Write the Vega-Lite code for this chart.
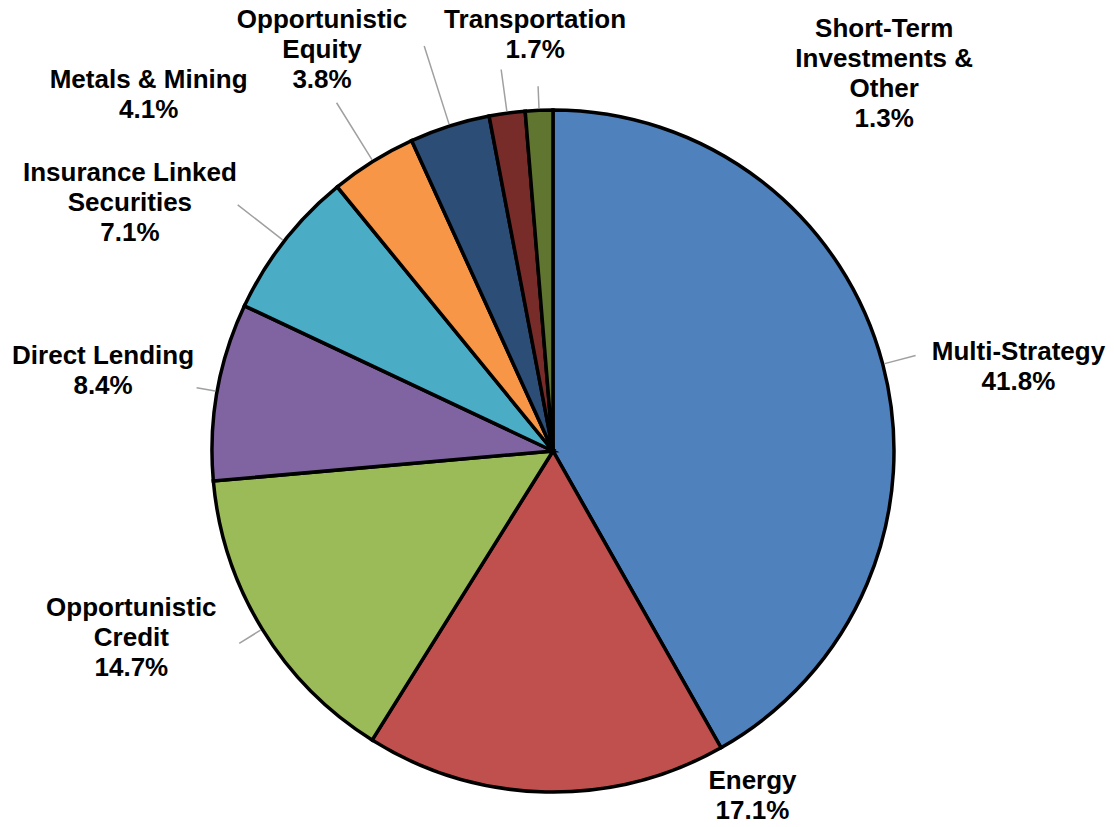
{
  "$schema": "https://vega.github.io/schema/vega-lite/v6.json",
  "width": 1106,
  "height": 752,
  "autosize": {"type": "none"},
  "padding": {"left": 0, "top": 75, "right": 8, "bottom": 0},
  "background": "white",
  "config": {
    "view": {"stroke": null},
    "text": {"font": "Liberation Sans", "fontWeight": "bold", "fontSize": 26, "lineHeight": 30, "lineBreak": "\n", "fill": "#000000", "align": "center", "baseline": "middle"}
  },
  "data": {
    "values": [
      {"idx": 1, "sector": "Multi-Strategy", "pct": 41.8, "label": "Multi-Strategy\n41.8%"},
      {"idx": 2, "sector": "Energy", "pct": 17.1, "label": "Energy\n17.1%"},
      {"idx": 3, "sector": "Opportunistic Credit", "pct": 14.7, "label": "Opportunistic\nCredit\n14.7%"},
      {"idx": 4, "sector": "Direct Lending", "pct": 8.4, "label": "Direct Lending\n8.4%"},
      {"idx": 5, "sector": "Insurance Linked Securities", "pct": 7.1, "label": "Insurance Linked\nSecurities\n7.1%"},
      {"idx": 6, "sector": "Metals & Mining", "pct": 4.1, "label": "Metals & Mining\n4.1%"},
      {"idx": 7, "sector": "Opportunistic Equity", "pct": 3.8, "label": "Opportunistic\nEquity\n3.8%"},
      {"idx": 8, "sector": "Transportation", "pct": 1.7, "label": "Transportation\n1.7%"},
      {"idx": 9, "sector": "Short-Term Investments & Other", "pct": 1.3, "label": "Short-Term\nInvestments &\nOther\n1.3%"}
    ]
  },
  "encoding": {
    "theta": {"field": "pct", "type": "quantitative", "stack": true},
    "order": {"field": "idx", "type": "quantitative", "sort": "ascending"},
    "detail": {"field": "sector", "type": "nominal"}
  },
  "layer": [
    {
      "mark": {"type": "arc", "radius": 341, "stroke": "#000000", "strokeWidth": 3.5},
      "encoding": {
        "color": {
          "field": "sector", "type": "nominal", "legend": null,
          "scale": {
            "domain": ["Multi-Strategy", "Energy", "Opportunistic Credit", "Direct Lending", "Insurance Linked Securities", "Metals & Mining", "Opportunistic Equity", "Transportation", "Short-Term Investments & Other"],
            "range": ["#4F81BD", "#C0504D", "#9BBB59", "#8064A2", "#4BACC6", "#F79646", "#2C4D75", "#772C2A", "#5F7530"]
          }
        }
      }
    },
    {"mark": {"type": "arc", "filled": false, "radius": 375, "radius2": 343, "padAngle": 3, "stroke": "#a0a0a0", "strokeWidth": 1.5},
     "encoding": {"strokeOpacity": {"condition": {"test": "datum.idx === 1", "value": 1}, "value": 0}}},
    {"mark": {"type": "arc", "filled": false, "radius": 368, "radius2": 343, "padAngle": 3, "stroke": "#a0a0a0", "strokeWidth": 1.5},
     "encoding": {"strokeOpacity": {"condition": {"test": "datum.idx === 3", "value": 1}, "value": 0}}},
    {"mark": {"type": "arc", "filled": false, "radius": 362, "radius2": 343, "padAngle": 3, "stroke": "#a0a0a0", "strokeWidth": 1.5},
     "encoding": {"strokeOpacity": {"condition": {"test": "datum.idx === 4", "value": 1}, "value": 0}}},
    {"mark": {"type": "arc", "filled": false, "radius": 400, "radius2": 343, "padAngle": 3, "stroke": "#a0a0a0", "strokeWidth": 1.5},
     "encoding": {"strokeOpacity": {"condition": {"test": "datum.idx === 5", "value": 1}, "value": 0}}},
    {"mark": {"type": "arc", "filled": false, "radius": 410, "radius2": 343, "padAngle": 3, "stroke": "#a0a0a0", "strokeWidth": 1.5},
     "encoding": {"strokeOpacity": {"condition": {"test": "datum.idx === 6", "value": 1}, "value": 0}}},
    {"mark": {"type": "arc", "filled": false, "radius": 425, "radius2": 343, "padAngle": 3, "stroke": "#a0a0a0", "strokeWidth": 1.5},
     "encoding": {"strokeOpacity": {"condition": {"test": "datum.idx === 7", "value": 1}, "value": 0}}},
    {"mark": {"type": "arc", "filled": false, "radius": 385, "radius2": 343, "padAngle": 3, "stroke": "#a0a0a0", "strokeWidth": 1.5},
     "encoding": {"strokeOpacity": {"condition": {"test": "datum.idx === 8", "value": 1}, "value": 0}}},
    {"mark": {"type": "arc", "filled": false, "radius": 365, "radius2": 343, "padAngle": 3, "stroke": "#a0a0a0", "strokeWidth": 1.5},
     "encoding": {"strokeOpacity": {"condition": {"test": "datum.idx === 9", "value": 1}, "value": 0}}},
    {"mark": {"type": "text", "radius": 471, "dx": 10, "dy": 21},
     "encoding": {"text": {"condition": {"test": "datum.idx === 1", "field": "label", "type": "nominal"}, "value": ""}}},
    {"mark": {"type": "text", "radius": 342, "dx": 207, "dy": -12},
     "encoding": {"text": {"condition": {"test": "datum.idx === 2", "field": "label", "type": "nominal"}, "value": ""}}},
    {"mark": {"type": "text", "radius": 457, "dx": -32, "dy": -82},
     "encoding": {"text": {"condition": {"test": "datum.idx === 3", "field": "label", "type": "nominal"}, "value": ""}}},
    {"mark": {"type": "text", "radius": 457, "dx": 0, "dy": -15},
     "encoding": {"text": {"condition": {"test": "datum.idx === 4", "field": "label", "type": "nominal"}, "value": ""}}},
    {"mark": {"type": "text", "radius": 486, "dx": -40, "dy": 21},
     "encoding": {"text": {"condition": {"test": "datum.idx === 5", "field": "label", "type": "nominal"}, "value": ""}}},
    {"mark": {"type": "text", "radius": 516, "dx": -132, "dy": 67},
     "encoding": {"text": {"condition": {"test": "datum.idx === 6", "field": "label", "type": "nominal"}, "value": ""}}},
    {"mark": {"type": "text", "radius": 452, "dx": -94, "dy": 0},
     "encoding": {"text": {"condition": {"test": "datum.idx === 7", "field": "label", "type": "nominal"}, "value": ""}}},
    {"mark": {"type": "text", "radius": 415, "dx": 38, "dy": -20},
     "encoding": {"text": {"condition": {"test": "datum.idx === 8", "field": "label", "type": "nominal"}, "value": ""}}},
    {"mark": {"type": "text", "radius": 363, "dx": 346, "dy": -59},
     "encoding": {"text": {"condition": {"test": "datum.idx === 9", "field": "label", "type": "nominal"}, "value": ""}}}
  ]
}
